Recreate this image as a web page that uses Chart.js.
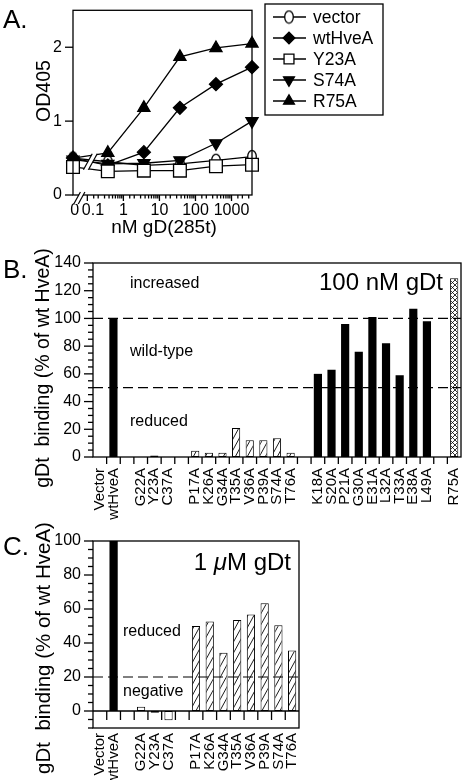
<!DOCTYPE html>
<html>
<head>
<meta charset="utf-8">
<script src="https://cdn.jsdelivr.net/npm/chart.js@4.4.1/dist/chart.umd.min.js"></script>
<style>
  body { margin:0; background:#fff; width:462px; height:780px; position:relative; overflow:hidden;
         font-family:"Liberation Sans", Arial, Helvetica, sans-serif; color:#000; }
  canvas { position:absolute; left:0; }
  .panel { position:absolute; font-size:26px; line-height:1; }
  .ytitle { position:absolute; white-space:pre; line-height:1; font-size:19.5px;
            transform:translate(-50%,-50%) rotate(-90deg); }
  .xtitle { position:absolute; white-space:pre; line-height:1; font-size:19px;
            transform:translate(-50%,-50%); }
</style>
</head>
<body>
<canvas id="chartA" width="462" height="250" style="top:0"></canvas>
<canvas id="chartB" width="462" height="270" style="top:250px"></canvas>
<canvas id="chartC" width="462" height="260" style="top:520px"></canvas>

<div class="panel" style="left:3px;top:6px">A.</div>
<div class="panel" style="left:3px;top:256px">B.</div>
<div class="panel" style="left:3px;top:533px">C.</div>
<div class="ytitle" style="left:44px;top:91px">OD405</div>
<div class="xtitle" style="left:164px;top:226px">nM gD(285t)</div>
<div class="ytitle" style="left:43px;top:368px">gDt  binding (% of wt HveA)</div>
<div class="ytitle" style="left:43px;top:648px;font-size:20.5px">gDt  binding (% of wt HveA)</div>

<script>
/* ---- panel A: OD405 vs nM gD(285t) ---- */
const DOSE    = [0, 0.37, 3.7, 37, 370, 3700];
const VECTOR  = [0.50, 0.45, 0.40, 0.42, 0.47, 0.52];
const WT_HVEA = [0.50, 0.40, 0.58, 1.18, 1.50, 1.73];
const Y23A    = [0.38, 0.32, 0.33, 0.33, 0.39, 0.41];
const S74A    = [0.48, 0.42, 0.43, 0.47, 0.70, 1.00];
const R75A    = [0.50, 0.57, 1.18, 1.87, 1.99, 2.05];
const ZERO_AT = 0.04;          // where dose 0 sits on the broken log axis

/* ---- panels B and C: binding as % of wt HveA ---- */
const B_CATS   = ['Vector','wtHveA','','G22A','Y23A','C37A','','P17A','K26A','G34A','T35A','V36A','P39A','S74A','T76A',
                  '','K18A','S20A','P21A','G30A','E31A','L32A','T33A','E38A','L49A','','R75A'];
const B_VALUES = [0,100,null,0,1,0,null,4.5,3,3,21,12,12,13.5,3,
                  null,60,63,96,76,101,82,59,107,98,null,129];
const C_CATS   = ['Vector','wtHveA','','G22A','Y23A','C37A','','P17A','K26A','G34A','T35A','V36A','P39A','S74A','T76A'];
const C_VALUES = [0,100,null,2.5,-1,-5.5,null,50,52.6,34.2,53.6,56.8,63.4,50.5,35.6];

// mutant classes (decide the bar fill)
const SOLID   = ['wtHveA','K18A','S20A','P21A','G30A','E31A','L32A','T33A','E38A','L49A'];
const OPEN    = ['G22A','Y23A','C37A'];
const HATCHED = ['P17A','K26A','G34A','T35A','V36A','P39A','S74A','T76A'];
const CROSSED = ['R75A'];

const FONT = '"Liberation Sans", Arial, Helvetica, sans-serif';

/* ——— fills ——— */
function pattern(kind){
    const c = document.createElement('canvas');
    const g = c.getContext('2d');
    if (kind === 'hatch') {
        c.width = 6; c.height = 11;
        g.fillStyle = '#fff'; g.fillRect(0,0,6,11);
        g.strokeStyle = '#000'; g.lineWidth = 0.9;
        g.beginPath();
        g.moveTo(0,11); g.lineTo(6,0);
        g.moveTo(-6,11); g.lineTo(0,0);
        g.moveTo(6,11); g.lineTo(12,0);
        g.stroke();
    } else {
        c.width = 5; c.height = 5;
        g.fillStyle = '#fff'; g.fillRect(0,0,5,5);
        g.strokeStyle = '#000'; g.lineWidth = 0.8;
        g.beginPath();
        g.moveTo(0,0); g.lineTo(5,5);
        g.moveTo(0,5); g.lineTo(5,0);
        g.stroke();
    }
    return g.createPattern(c, 'repeat');
}
const HATCH = pattern('hatch'), CROSS = pattern('cross');
const fillFor = c => SOLID.includes(c) ? '#000' : HATCHED.includes(c) ? HATCH
                   : CROSSED.includes(c) ? CROSS : '#fff';
const borderFor = c => SOLID.includes(c) || c === '' || c === 'Vector' ? 0 : 1;

/* ——— small drawing helpers ——— */
function seg(ctx,x1,y1,x2,y2){ ctx.beginPath(); ctx.moveTo(x1,y1); ctx.lineTo(x2,y2); ctx.stroke(); }
function slashPair(ctx,cx,cy,h,gap){
    const s = h*0.55;
    ctx.fillStyle = '#fff';
    ctx.beginPath();
    ctx.moveTo(cx-gap/2-s, cy+h); ctx.lineTo(cx-gap/2+s, cy-h);
    ctx.lineTo(cx+gap/2+s, cy-h); ctx.lineTo(cx+gap/2-s, cy+h);
    ctx.closePath(); ctx.fill();
    ctx.strokeStyle = '#000'; ctx.lineWidth = 1.2;
    seg(ctx, cx-gap/2-s, cy+h, cx-gap/2+s, cy-h);
    seg(ctx, cx+gap/2-s, cy+h, cx+gap/2+s, cy-h);
}
function dashed(ctx,area,py){
    ctx.save(); ctx.setLineDash([10,5]); ctx.lineWidth = 1.2; ctx.strokeStyle = '#000';
    seg(ctx, area.left, py, area.right, py); ctx.restore();
}
function yTicks(ctx,scale,left,majorEvery,majLen,minLen){
    scale.ticks.forEach(t => {
        const py = scale.getPixelForValue(t.value);
        const len = Math.abs(t.value % majorEvery) < 1e-9 ? majLen : minLen;
        seg(ctx, left-len, py, left, py);
    });
}
function catTicks(ctx,scale,y0,len){
    for (let i = 1; i < scale.ticks.length; i++) {
        const px = (scale.getPixelForValue(i-1) + scale.getPixelForValue(i))/2;
        seg(ctx, px, y0, px, y0+len);
    }
}

/* ——— marker for "vector": upright open ellipse ——— */
const ellipse = (() => {
    const c = document.createElement('canvas'); c.width = 12; c.height = 15;
    const g = c.getContext('2d');
    g.fillStyle = '#fff'; g.strokeStyle = '#000'; g.lineWidth = 1.3;
    g.beginPath(); g.ellipse(6, 7.5, 4.3, 6.2, 0, 0, 2*Math.PI); g.fill(); g.stroke();
    return c;
})();

/* ——— chart A ——— */
const toPts = arr => DOSE.map((d,i) => ({x: d === 0 ? ZERO_AT : d, y: arr[i]}));
const SERIES_A = [
    {label:'vector',  data:VECTOR,  pointStyle:ellipse,    radius:6,   fill:'#fff', rot:0,   order:3},
    {label:'wtHveA',  data:WT_HVEA, pointStyle:'rectRot',  radius:6.5, fill:'#000', rot:0,   order:2},
    {label:'Y23A',    data:Y23A,    pointStyle:'rect',     radius:9,   fill:'#fff', rot:0,   order:-1},
    {label:'S74A',    data:S74A,    pointStyle:'triangle', radius:7,   fill:'#000', rot:180, order:1},
    {label:'R75A',    data:R75A,    pointStyle:'triangle', radius:7,   fill:'#000', rot:0,   order:0}
];
const isPow10 = v => Math.abs(Math.log10(v) - Math.round(Math.log10(v))) < 1e-6;

const frameA = {
    id:'frameA',
    afterDatasetsDraw(chart){
        const {ctx, scales:{x,y}} = chart;
        ctx.save();
        slashPair(ctx, x.getPixelForValue(0.1)+3, y.getPixelForValue(0.45), 8, 5);
        ctx.restore();
    },
    afterDraw(chart){
        const {ctx, chartArea:a, scales:{x,y}} = chart;
        ctx.save();
        ctx.strokeStyle = '#000'; ctx.lineWidth = 1.3;
        ctx.strokeRect(a.left, a.top, a.right-a.left, a.bottom-a.top);
        yTicks(ctx, y, a.left, 1, 8, 8);
        x.ticks.forEach(t => {
            if (t.value <= x.min*1.0001) return;
            const px = x.getPixelForValue(t.value);
            seg(ctx, px, a.bottom, px, a.bottom + (isPow10(t.value) ? 6 : 3.5));
        });
        slashPair(ctx, x.getPixelForValue(0.06), a.bottom+3, 6, 4.5);

        /* legend */
        const L = {left:265, top:4, w:118, h:111, row:21};
        ctx.lineWidth = 1.3;
        ctx.strokeRect(L.left, L.top, L.w, L.h);
        ctx.font = '17.5px ' + FONT; ctx.textBaseline = 'middle'; ctx.fillStyle = '#000';
        SERIES_A.forEach((s,i) => {
            const yy = L.top + 13 + i*L.row;
            ctx.strokeStyle = '#000'; ctx.lineWidth = 1.3;
            seg(ctx, L.left+8, yy, L.left+41, yy);
            ctx.fillStyle = s.fill;
            Chart.helpers.drawPoint(ctx, {pointStyle:s.pointStyle, rotation:s.rot,
                radius: s.pointStyle === 'rect' ? 7 : s.radius*0.9, borderWidth:1.3}, L.left+24, yy);
            ctx.fillStyle = '#000';
            ctx.fillText(s.label, L.left+48, yy+1);
        });
        ctx.restore();
    }
};

new Chart(document.getElementById('chartA'), {
    type:'line',
    data:{datasets: SERIES_A.map(s => ({
        label:s.label, data:toPts(s.data), order:s.order,
        borderColor:'#000', borderWidth:1.3, pointStyle:s.pointStyle, pointRadius:s.radius,
        pointRotation:s.rot, pointBackgroundColor:s.fill, pointBorderColor:'#000',
        pointBorderWidth:1.3, tension:0, clip:false }))},
    options:{
        responsive:false, animation:false, devicePixelRatio:1,
        layout:{padding:{left:0, right:210, top:4, bottom:0}},
        plugins:{legend:{display:false}, tooltip:{enabled:false}},
        scales:{
            x:{type:'logarithmic', min:ZERO_AT, max:3700,
               grid:{display:false, drawTicks:false}, border:{display:false},
               afterBuildTicks(s){ s.ticks = s.ticks.filter(t =>
                    t.value <= s.min*1.0001 || (t.value >= 0.0999 && t.value < s.max*0.999)); },
               ticks:{autoSkip:false, maxRotation:0, padding:6, color:'#000',
                      font:{size:16, family:FONT},
                      // en/thin spaces nudge the crowded "0" and "0.1" apart
                      callback(v){ if (v <= ZERO_AT*1.0001) return '\u20090';
                                   if (Math.abs(v - 0.1) < 1e-6) return '\u2002\u20090.1';
                                   return isPow10(v) ? String(+v.toPrecision(3)) : ''; }},
               afterFit(s){ s.height = 55; s.paddingLeft = 0; s.paddingRight = 0; }},
            y:{min:0, max:2.5, grid:{display:false, drawTicks:false}, border:{display:false},
               ticks:{stepSize:1, includeBounds:false, padding:11, color:'#000',
                      font:{size:16, family:FONT}},
               afterFit(s){ s.width = 73; s.paddingTop = 0; s.paddingBottom = 0; }}
        }
    },
    plugins:[frameA]
});

/* ——— charts B and C ——— */
function barChart(id, cats, values, opt){
    return new Chart(document.getElementById(id), {
        type:'bar',
        data:{labels:cats, datasets:[{data:values,
            backgroundColor:cats.map(fillFor), borderColor:'#000',
            borderWidth:cats.map(borderFor), borderSkipped:false,
            barPercentage:0.6, categoryPercentage:1}]},
        options:{
            responsive:false, animation:false, devicePixelRatio:1,
            layout:{padding:{left:0, right:opt.right, top:opt.top, bottom:0}},
            plugins:{legend:{display:false}, tooltip:{enabled:false}},
            scales:{
                x:{grid:{display:false, drawTicks:false}, border:{display:false},
                   ticks:{autoSkip:false, minRotation:90, maxRotation:90, padding:opt.labelPad,
                          color:'#000', font:{size:15, family:FONT}},
                   afterFit(s){ s.height = opt.xh; s.paddingLeft = 0; s.paddingRight = 0; }},
                y:{min:opt.min, max:opt.max, grid:{display:false, drawTicks:false}, border:{display:false},
                   ticks:{stepSize:5, autoSkip:false, padding:12, color:'#000',
                          font:{size:16, family:FONT},
                          callback:v => (v % 20 === 0 && v >= 0) ? v : ''},
                   afterFit(s){ s.width = 93; s.paddingTop = 0; s.paddingBottom = 0; }}
            }
        },
        plugins:[opt.deco]
    });
}

const decoB = {
    id:'decoB',
    afterDraw(chart){
        const {ctx, chartArea:a, scales:{x,y}} = chart;
        ctx.save();
        dashed(ctx, a, y.getPixelForValue(100));
        dashed(ctx, a, y.getPixelForValue(50));
        ctx.strokeStyle = '#000'; ctx.lineWidth = 1.3;
        ctx.strokeRect(a.left, a.top, a.right-a.left, a.bottom-a.top);
        yTicks(ctx, y, a.left, 20, 9, 5);
        catTicks(ctx, x, a.bottom, 7);
        ctx.fillStyle = '#000'; ctx.textBaseline = 'alphabetic';
        ctx.font = '16px ' + FONT; ctx.textAlign = 'left';
        ctx.fillText('increased', a.left+37, y.getPixelForValue(121.7));
        ctx.fillText('wild-type', a.left+37, y.getPixelForValue(72.9));
        ctx.fillText('reduced',   a.left+37, y.getPixelForValue(22.6));
        ctx.font = '24px ' + FONT; ctx.textAlign = 'right';
        ctx.fillText('100 nM gDt', a.right-18, y.getPixelForValue(120.5));
        ctx.restore();
    }
};

const decoC = {
    id:'decoC',
    afterDraw(chart){
        const {ctx, chartArea:a, scales:{x,y}} = chart;
        ctx.save();
        dashed(ctx, a, y.getPixelForValue(20));
        ctx.strokeStyle = '#000'; ctx.lineWidth = 1.3;
        ctx.strokeRect(a.left, a.top, a.right-a.left, a.bottom-a.top);
        const y0 = y.getPixelForValue(0);
        ctx.lineWidth = 1.6; seg(ctx, a.left, y0, a.right, y0);
        ctx.lineWidth = 1.3;
        yTicks(ctx, y, a.left, 20, 9, 5);
        catTicks(ctx, x, y0, 9);
        ctx.fillStyle = '#000'; ctx.textBaseline = 'alphabetic';
        ctx.font = '16px ' + FONT; ctx.textAlign = 'left';
        ctx.fillText('reduced',  a.left+30, y.getPixelForValue(44));
        ctx.fillText('negative', a.left+30, y.getPixelForValue(8.6));
        // "1 μM gDt" with italic mu, right aligned
        const by = y.getPixelForValue(83), parts = [['1 ', ''], ['\u03bc', 'italic '], ['M gDt', '']];
        let w = 0;
        parts.forEach(p => { ctx.font = p[1] + '24px ' + FONT; w += ctx.measureText(p[0]).width; });
        let px = a.right - 8 - w;
        parts.forEach(p => { ctx.font = p[1] + '24px ' + FONT; ctx.fillText(p[0], px, by);
                             px += ctx.measureText(p[0]).width; });
        ctx.restore();
    }
};

barChart('chartB', B_CATS, B_VALUES, {min:0, max:140, right:1, top:13, xh:63, labelPad:11, deco:decoB});
barChart('chartC', C_CATS, C_VALUES, {min:-10, max:100, right:163, top:21, xh:52, labelPad:5, deco:decoC});
</script>
</body>
</html>
